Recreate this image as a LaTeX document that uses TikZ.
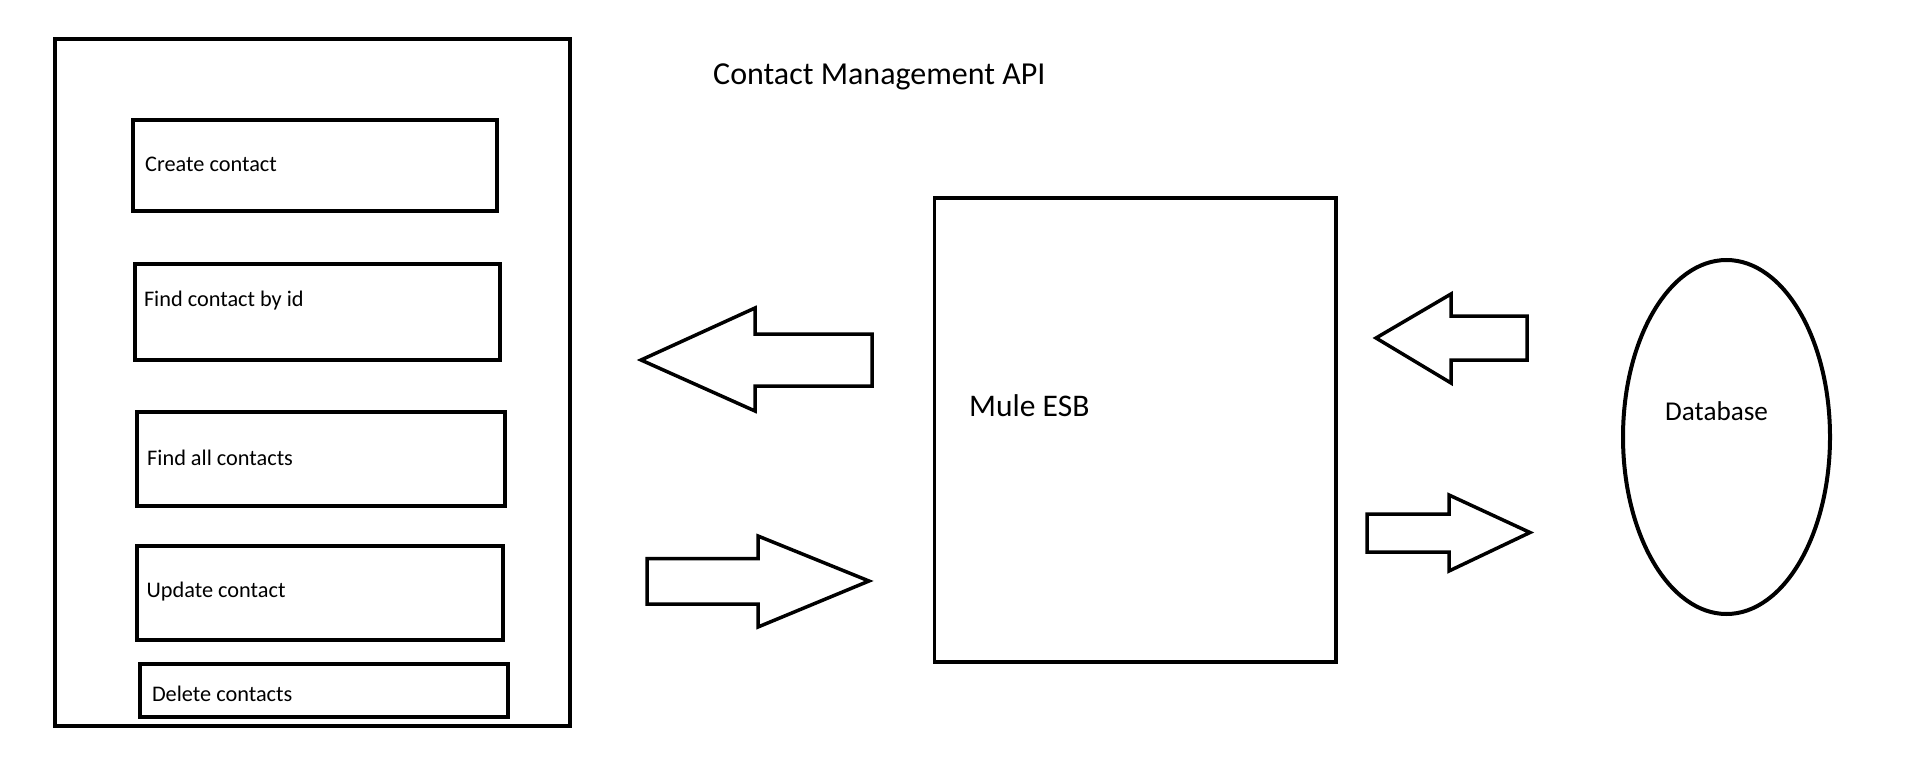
\documentclass[tikz,border=0pt]{standalone}
\usepackage{fontspec}
\setmainfont{Carlito}
\usetikzlibrary{shapes.geometric}
\begin{document}
\begin{tikzpicture}[x=1pt,y=-1pt,
  box/.style={draw, line width=4pt, inner sep=0pt, outer sep=0pt, anchor=north west},
  lbl/.style={anchor=base west, inner sep=0pt, font=\fontsize{22.3}{26}\selectfont},
  big/.style={anchor=base west, inner sep=0pt, font=\fontsize{32}{36}\selectfont},
  barrow/.style={draw, line width=3.5pt, line join=miter}]
\useasboundingbox[fill=white] (0,0) rectangle (1908,765);
% API container
\node[box, minimum width=515pt, minimum height=686.5pt] (api) at (55,39.5) {};
\node[big] (title) at (713,84.3) {Contact Management API};
% operation boxes
\node[box, minimum width=364.5pt, minimum height=90pt] (create) at (132.5,120.5) {};
\node[box, minimum width=365pt, minimum height=96pt] (findid) at (135,264) {};
\node[box, minimum width=368pt, minimum height=94pt] (findall) at (137,412) {};
\node[box, minimum width=366pt, minimum height=94pt] (update) at (137,546) {};
\node[box, minimum width=368.5pt, minimum height=53pt] (delete) at (139.5,664) {};
\node[lbl] (createl) at (145,171.7) {Create contact};
\node[lbl] (findidl) at (143.8,306) {Find contact by id};
\node[lbl] (findalll) at (147,465.7) {Find all contacts};
\node[lbl] (updatel) at (146.4,597.3) {Update contact};
\node[lbl] (deletel) at (151.8,701.7) {Delete contacts};
% Mule ESB
\node[box, line width=3.8pt, minimum width=401.5pt, minimum height=464pt] (mule) at (934.5,198) {};
\node[anchor=base west, inner sep=0pt, font=\fontsize{31.5}{36}\selectfont] (mulel) at (969,416) {Mule ESB};
% Database
\node[draw, ellipse, line width=4pt, inner sep=0pt, minimum width=207pt, minimum height=354pt] (db) at (1726.5,437) {};
\node[anchor=base west, inner sep=0pt, font=\fontsize{27.2}{32}\selectfont] (dbl) at (1665,420.7) {Database};
% block arrows
\draw[barrow] (641,360) -- (755,308) -- (755,334) -- (872,334) -- (872,386) -- (755,386) -- (755,411) -- cycle;
\draw[barrow] (869,581) -- (758,536) -- (758,558.5) -- (647,558.5) -- (647,604) -- (758,604) -- (758,627) -- cycle;
\draw[barrow] (1376,338) -- (1451,294) -- (1451,316) -- (1527,316) -- (1527,360) -- (1451,360) -- (1451,383) -- cycle;
\draw[barrow] (1530,532.5) -- (1449,495) -- (1449,514) -- (1367,514) -- (1367,552) -- (1449,552) -- (1449,571) -- cycle;
\end{tikzpicture}
\end{document}
